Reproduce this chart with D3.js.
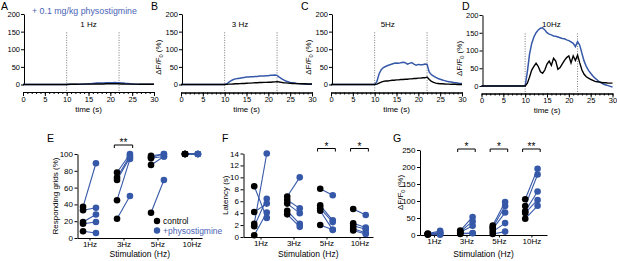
<!DOCTYPE html>
<html>
<head>
<meta charset="utf-8">
<script src="https://cdn.jsdelivr.net/npm/d3@7"></script>
<style>
  body { margin: 0; background: #fff; }
  svg { font-family: "Liberation Sans", Arial, sans-serif; }
</style>
</head>
<body>
<div id="figure"></div>
<script>
// ---- trace data (time in s, dF/F0 in %) ----
const traceTime = [0, 9.5, 10, 10.5, 11, 11.5, 12, 12.5, 13, 13.5, 14, 14.5, 15, 15.5, 16, 16.5, 17, 17.5, 18, 18.5,
  19, 19.5, 20, 20.5, 21, 21.5, 22, 22.5, 23, 23.5, 24, 24.5, 25, 25.5, 26, 26.5, 27, 27.5, 28, 28.5, 29, 29.5, 30];

const trace1HzControl = [0, 0, 0, 0.5, 0.5, 0.5, 0.5, 0.5, 1, 1, 1, 1, 1, 1, 1, 1.5, 1.5, 1.5, 1.5, 1.5,
  2, 2, 2, 2, 2, 2, 2, 1.5, 1.5, 1, 1, 1, 1, 1, 1, 0.5, 0.5, 0.5, 0.5, 0.5, 0.5, 0.5, 0.5];
const trace1HzPhyso = [0, 0, 0, 0, 0.5, 0.5, 1, 1, 1, 1, 1.5, 1.5, 2, 2, 3, 3.5, 4, 4, 4.5, 4.5,
  5, 5, 5, 5, 5.5, 5, 5, 4.5, 4, 3, 2.5, 2, 1.5, 1, 1, 1, 0.5, 0.5, 0.5, 0.5, 0.5, 0.5, 0.5];

const trace3HzControl = [0, 0, 0, 0.5, 1, 1, 1.5, 2, 2, 2.5, 3, 3, 3.5, 4, 4, 4.5, 5, 5, 5.5, 5.5,
  6, 6, 6.5, 6.5, 7, 7.5, 8, 7, 6, 5, 4.5, 4, 3.5, 3, 3, 2.5, 2.5, 2, 2, 2, 1.5, 1.5, 1.5];
const trace3HzPhyso = [0, 0, 0, 2, 7, 11, 14, 16, 17, 18, 19, 20, 21, 21, 22, 22, 23, 23, 24, 24,
  24, 25, 25, 26, 26, 27, 26, 21, 17, 13, 10, 8, 6, 5, 4, 3, 2, 2, 1.5, 1, 1, 0.5, 0.5];

const trace5HzControl = [0, 0, 0, 1, 4, 7, 9, 10, 10, 11, 12, 12, 13, 13, 14, 14, 15, 15, 16, 16,
  17, 17, 18, 18, 19, 19, 21, 14, 9, 6, 4, 3, 2, 2, 1.5, 1, 1, 0.5, 0.5, 0.5, 0, 0, 0];
const trace5HzPhyso = [0, 0, 0, 8, 30, 42, 48, 51, 54, 56, 58, 60, 61, 60, 62, 63, 62, 58, 60, 62,
  58, 55, 57, 56, 56, 58, 57, 35, 28, 24, 20, 17, 15, 13, 11, 9, 8, 7, 6, 5, 4, 3, 3];

const trace10HzControl = [0, 0, 0, 8, 25, 45, 55, 64, 55, 40, 36, 45, 62, 70, 58, 78, 70, 47, 52, 62,
  72, 80, 85, 65, 85, 72, 87, 65, 45, 33, 26, 22, 19, 16, 13, 12, 11, 10, 9, 9, 8, 8, 8];
const trace10HzPhyso = [0, 0, 0, 40, 90, 120, 138, 150, 158, 163, 164, 158, 150, 146, 144, 141, 140, 138, 136, 134,
  133, 130, 128, 124, 120, 111, 125, 115, 92, 70, 55, 44, 36, 28, 22, 17, 12, 8, 5, 3, 1, -1, -3];

const stimOnset = 10;
const stimOffset = 22;

// ---- paired data per stimulation frequency (5 grids each) ----
const stimCategories = ["1Hz", "3Hz", "5Hz", "10Hz"];

const respondingControl = [[37, 33, 19, 17, 8], [78, 72, 69, 45, 23], [98, 96, 95, 87, 30], [100, 100, 100, 100, 100]];
const respondingPhyso = [[89, 36, 28, 19, 6], [100, 98, 96, 94, 50], [100, 100, 97, 97, 69], [100, 100, 100, 100, 100]];

const latencyControl = [[8.5, 4.2, 2.2, 1.8, 0.3], [6.8, 6.2, 5.6, 4.4, 3.8], [8.1, 5.3, 4.8, 4.4, 2.0], [4.7, 2.3, 1.9, 1.4, 1.1]];
const latencyPhyso = [[3.2, 5.6, 14, 6.4, 4.1], [10, 4.8, 4.0, 2.2, 1.7], [7.0, 2.8, 2.5, 1.2, 1.2], [3.7, 1.6, 1.3, 0.7, 0.5]];

const amplitudeControl = [[4, 3, 3, 2, 1], [13, 10, 8, 5, 3], [28, 22, 18, 10, 3], [105, 85, 70, 65, 48]];
const amplitudePhyso = [[12, 8, 5, 3, 1], [53, 40, 27, 6, 5], [97, 85, 66, 35, 10], [195, 178, 128, 103, 86]];

const blue = "#3658a8";

const svg = d3.select("#figure").append("svg")
  .attr("width", 617)
  .attr("height", 261);

function dfLabel(sel, fontSize) {
  sel.append("tspan").text("ΔF/F");
  sel.append("tspan").attr("font-size", fontSize * 0.7).attr("dy", 2).text("0");
  sel.append("tspan").attr("dy", -2).text(" (%)");
}

// ---- top row: time traces ----
const tracePanels = [
  { letter: "A", lx: 1, x0: 23, yBase: 84.5, yTop: 14, axisY: 92, title: "1 Hz", titleT: 15, control: trace1HzControl, physo: trace1HzPhyso, ylabel: false },
  { letter: "B", lx: 151, x0: 181, yBase: 84.5, yTop: 14, axisY: 92.5, title: "3 Hz", titleT: 13.5, control: trace3HzControl, physo: trace3HzPhyso, ylabel: true },
  { letter: "C", lx: 301, x0: 331, yBase: 84.5, yTop: 14, axisY: 92.5, title: "5Hz", titleT: 13, control: trace5HzControl, physo: trace5HzPhyso, ylabel: true },
  { letter: "D", lx: 462, x0: 481.5, yBase: 86, yTop: 15, axisY: 93.5, title: "10Hz", titleT: 16, control: trace10HzControl, physo: trace10HzPhyso, ylabel: true }
];

tracePanels.forEach(p => {
  const g = svg.append("g");
  const x = d3.scaleLinear().domain([0, 30]).range([p.x0, p.x0 + 131]);
  const y = d3.scaleLinear().domain([0, 200]).range([p.yBase, p.yTop]);

  g.append("text").attr("x", p.lx).attr("y", 9.5)
    .style("font-size", "10.5px").text(p.letter);

  // y axis
  const yAxis = g.append("g").attr("transform", `translate(${p.x0 + 1},0)`)
    .call(d3.axisLeft(y).tickValues([0, 50, 100, 150, 200]).tickSize(3).tickSizeOuter(0).tickPadding(1));
  yAxis.selectAll("text").style("font-size", "7.5px").style("font-family", "inherit");

  // x axis, major + minor ticks
  g.append("g").attr("transform", `translate(0,${p.axisY})`)
    .call(d3.axisBottom(x).tickValues(d3.range(0, 31, 1)).tickSize(2).tickSizeOuter(0).tickFormat(""));
  const xAxis = g.append("g").attr("transform", `translate(0,${p.axisY})`)
    .call(d3.axisBottom(x).tickValues(d3.range(0, 31, 5)).tickSize(4).tickSizeOuter(0).tickPadding(0.5));
  xAxis.selectAll("text").style("font-size", "7.5px").style("font-family", "inherit");

  g.append("text")
    .attr("x", (x(0) + x(30)) / 2).attr("y", p.axisY + 19.5)
    .attr("text-anchor", "middle").style("font-size", "8px")
    .text("time (s)");

  // stimulation markers
  [stimOnset, stimOffset].forEach(t => {
    g.append("line")
      .attr("x1", x(t)).attr("x2", x(t))
      .attr("y1", y(148)).attr("y2", p.axisY - 1)
      .attr("stroke", "#777").attr("stroke-width", 1)
      .attr("stroke-dasharray", "1,1.5");
  });

  g.append("text")
    .attr("x", x(p.titleT)).attr("y", 27)
    .attr("text-anchor", "middle").style("font-size", "8px")
    .text(p.title);

  if (p.ylabel) {
    const yl = g.append("text")
      .attr("transform", `translate(${p.x0 - 20},${(p.yBase + p.yTop) / 2 + 8}) rotate(-90)`)
      .attr("text-anchor", "middle").style("font-size", "8px");
    dfLabel(yl, 8);
  }

  const line = d3.line().x((d, i) => x(traceTime[i])).y(d => y(d));
  g.append("path").datum(p.physo).attr("d", line)
    .attr("fill", "none").attr("stroke", blue).attr("stroke-width", 1.5);
  g.append("path").datum(p.control).attr("d", line)
    .attr("fill", "none").attr("stroke", "#000").attr("stroke-width", 1.4);
});

svg.append("text").attr("x", 32).attr("y", 13.5)
  .style("font-size", "8.8px").attr("fill", "#4a64b6")
  .text("+ 0.1 mg/kg physostigmine");

// ---- bottom row: paired comparisons ----
const pairPanels = [
  { letter: "E", lx: 47, ax0: 77.5, ax1: 202, dom: [-0.353, 3.31], yBase: 238, yTop: 154, ymax: 100, ticks: d3.range(0, 101, 20),
    label: "Responding grids (%)", labelX: 58, control: respondingControl, physo: respondingPhyso,
    brackets: [{ cat: 1, stars: "**" }], bracketY: 145 },
  { letter: "F", lx: 222, ax0: 243.5, ax1: 373, dom: [-0.515, 3.41], yBase: 237, yTop: 153.5, ymax: 14, ticks: d3.range(0, 15, 2),
    label: "Latency (s)", labelX: 228, control: latencyControl, physo: latencyPhyso,
    brackets: [{ cat: 2, stars: "*" }, { cat: 3, stars: "*" }], bracketY: 148.5 },
  { letter: "G", lx: 393, ax0: 420, ax1: 547, dom: [-0.43, 3.48], yBase: 235, yTop: 150, ymax: 250, ticks: d3.range(0, 251, 50),
    label: null, labelX: 403, control: amplitudeControl, physo: amplitudePhyso,
    brackets: [{ cat: 1, stars: "*" }, { cat: 2, stars: "*" }, { cat: 3, stars: "**" }], bracketY: 149 }
];

const pairOffset = 0.19;

pairPanels.forEach(p => {
  const g = svg.append("g");
  const x = d3.scaleLinear().domain(p.dom).range([p.ax0, p.ax1]);
  const y = d3.scaleLinear().domain([0, p.ymax]).range([p.yBase, p.yTop]);

  g.append("text").attr("x", p.lx).attr("y", 142)
    .style("font-size", "10.5px").text(p.letter);

  const yAxis = g.append("g").attr("transform", `translate(${p.ax0},0)`)
    .call(d3.axisLeft(y).tickValues(p.ticks).tickSize(3).tickSizeOuter(0).tickPadding(1.5));
  yAxis.selectAll("text").style("font-size", "8px").style("font-family", "inherit");

  const xAxis = g.append("g").attr("transform", `translate(0,${p.yBase})`)
    .call(d3.axisBottom(x).tickValues(d3.range(stimCategories.length))
      .tickFormat(i => stimCategories[i]).tickSize(2.5).tickSizeOuter(0).tickPadding(0.5));
  xAxis.selectAll("text").style("font-size", "8px").style("font-family", "inherit");

  g.append("text")
    .attr("x", (p.ax0 + p.ax1) / 2).attr("y", 257)
    .attr("text-anchor", "middle").style("font-size", "8.5px")
    .text("Stimulation (Hz)");

  const yl = g.append("text")
    .attr("transform", `translate(${p.labelX},${(p.yBase + p.yTop) / 2}) rotate(-90)`)
    .attr("text-anchor", "middle").style("font-size", "8px");
  if (p.label) yl.text(p.label); else dfLabel(yl, 8);

  const pairs = [];
  p.control.forEach((vals, i) => vals.forEach((v, k) => pairs.push({ cat: i, c: v, t: p.physo[i][k] })));

  g.selectAll(".pair").data(pairs).enter().append("line")
    .attr("x1", d => x(d.cat - pairOffset)).attr("y1", d => y(d.c))
    .attr("x2", d => x(d.cat + pairOffset)).attr("y2", d => y(d.t))
    .attr("stroke", blue).attr("stroke-width", 1.1);
  g.selectAll(".ctrl").data(pairs).enter().append("circle")
    .attr("cx", d => x(d.cat - pairOffset)).attr("cy", d => y(d.c))
    .attr("r", 3.3).attr("fill", "#000");
  g.selectAll(".phys").data(pairs).enter().append("circle")
    .attr("cx", d => x(d.cat + pairOffset)).attr("cy", d => y(d.t))
    .attr("r", 3.3).attr("fill", blue);

  // significance brackets
  p.brackets.forEach(b => {
    const x1 = x(b.cat - pairOffset - 0.08), x2 = x(b.cat + pairOffset + 0.08);
    g.append("path")
      .attr("d", `M${x1},${p.bracketY + 3}V${p.bracketY}H${x2}V${p.bracketY + 3}`)
      .attr("fill", "none").attr("stroke", "#000").attr("stroke-width", 1);
    g.append("text").attr("x", (x1 + x2) / 2).attr("y", p.bracketY + 1)
      .attr("text-anchor", "middle").style("font-size", "10px").text(b.stars);
  });
});

// legend in panel E
const legend = svg.append("g").attr("transform", "translate(157,221)");
[{ label: "control", color: "#000", textColor: "#000" },
 { label: "+physostigmine", color: blue, textColor: "#4a64b6" }].forEach((d, i) => {
  legend.append("circle").attr("cx", 0).attr("cy", i * 9.5).attr("r", 3.2).attr("fill", d.color);
  legend.append("text").attr("x", 6).attr("y", i * 9.5 + 3)
    .style("font-size", "8.5px").attr("fill", d.textColor).text(d.label);
});
</script>
</body>
</html>
